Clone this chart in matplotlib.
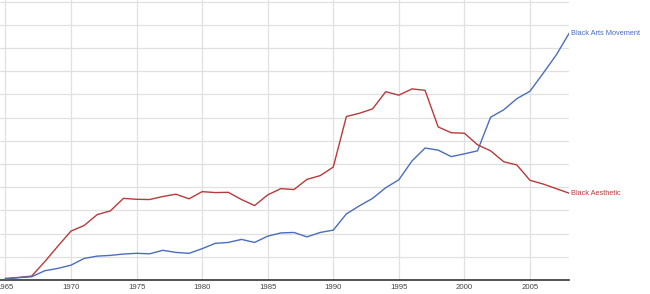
import matplotlib
matplotlib.use("Agg")
import matplotlib.pyplot as plt

years = list(range(1965, 2009))

black_arts_movement = [
    0.04, 0.10, 0.14, 0.40, 0.50, 0.64, 0.93, 1.03, 1.06, 1.12,
    1.15, 1.13, 1.28, 1.19, 1.15, 1.35, 1.58, 1.62, 1.75, 1.62,
    1.89, 2.03, 2.05, 1.86, 2.05, 2.15, 2.85, 3.20, 3.52, 3.98,
    4.32, 5.13, 5.69, 5.60, 5.32, 5.44, 5.57, 7.02, 7.34, 7.82,
    8.14, 8.91, 9.70, 10.65,
]

black_aesthetic = [
    0.07, 0.11, 0.17, 0.79, 1.46, 2.11, 2.35, 2.82, 2.98, 3.52,
    3.48, 3.47, 3.60, 3.70, 3.50, 3.81, 3.77, 3.78, 3.47, 3.21,
    3.67, 3.94, 3.90, 4.34, 4.50, 4.87, 7.05, 7.19, 7.38, 8.12,
    7.97, 8.24, 8.18, 6.60, 6.35, 6.33, 5.83, 5.57, 5.10, 4.96,
    4.30, 4.14, 3.94, 3.74,
]

series_names = ["Black Arts Movement", "Black Aesthetic"]
xtick_values = [1965, 1970, 1975, 1980, 1985, 1990, 1995, 2000, 2005]
xtick_labels = ["1965", "1970", "1975", "1980", "1985", "1990", "1995", "2000", "2005"]
ygrid_values = list(range(0, 13))

blue = "#4a6dbf"
red = "#b83a3c"

plt.rcParams["font.family"] = ["Liberation Sans", "DejaVu Sans"]

fig = plt.figure(figsize=(6.5, 2.94), dpi=100)
W, H = 650, 294
ax = fig.add_axes([0, (294 - 280) / H, 569.3 / W, 280 / H])
ax.set_xlim(1964.586, 2008)
ax.set_ylim(0, 280 / 23.19)

for v in ygrid_values[1:]:
    ax.axhline(v, color="#e0e0e0", lw=0.9, zorder=0)
for v in xtick_values:
    ax.axvline(v, color="#e0e0e0", lw=0.9, zorder=0)

ax.plot(years, black_aesthetic, color=red, lw=1.0, zorder=3)
ax.plot(years, black_arts_movement, color=blue, lw=1.0, zorder=3)

for s in ["top", "right", "left"]:
    ax.spines[s].set_visible(False)
ax.spines["bottom"].set_color("#333333")
ax.spines["bottom"].set_linewidth(1.2)
ax.set_yticks([])
ax.set_xticks(xtick_values)
ax.set_xticklabels(xtick_labels)
ax.tick_params(axis="x", length=0, pad=3, labelsize=5.6, labelcolor="#444444")
ax.set_facecolor("white")

ax.annotate(series_names[0], xy=(years[-1], black_arts_movement[-1]),
            xytext=(1.5, 0), textcoords="offset points", va="center", ha="left",
            fontsize=5.3, color=blue, annotation_clip=False)
ax.annotate(series_names[1], xy=(years[-1], black_aesthetic[-1]),
            xytext=(1.5, 0), textcoords="offset points", va="center", ha="left",
            fontsize=5.3, color=red, annotation_clip=False)

fig.savefig("out.png", dpi=100, facecolor="white")
